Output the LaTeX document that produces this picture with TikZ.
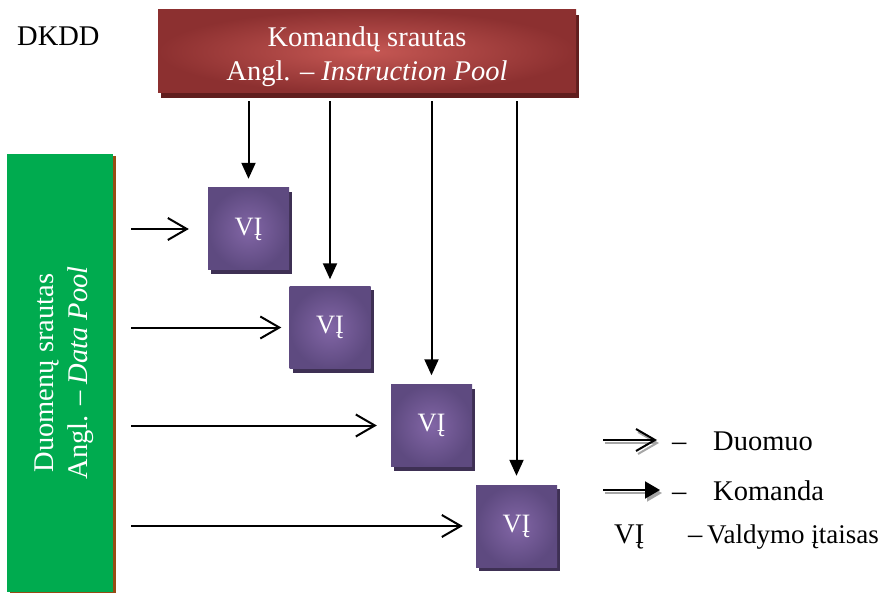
\documentclass[tikz,border=0pt]{standalone}
\usepackage{fontspec}
\setmainfont{Liberation Serif}
\usetikzlibrary{arrows.meta,shadows,positioning,calc}
\definecolor{poolred}{RGB}{140,48,48}
\definecolor{poolredlight}{RGB}{198,88,84}
\definecolor{poolredshadow}{RGB}{96,30,30}
\definecolor{poolgreen}{RGB}{0,171,79}
\definecolor{poolbrown}{RGB}{150,76,20}
\definecolor{vipurple}{RGB}{94,74,128}
\definecolor{vipurplelight}{RGB}{130,102,166}
\definecolor{vishadow}{RGB}{62,48,84}

\begin{document}
\begin{tikzpicture}[x=1pt, y=-1pt,
  bigtext/.style={font=\fontsize{28.5}{34}\selectfont},
  pooltext/.style={bigtext, text=white, align=center},
  legendtext/.style={bigtext, anchor=base west, inner sep=0pt},
  vibox/.style={shade, inner color=vipurplelight, outer color=vipurple, minimum width=81pt, minimum height=82pt, text=white, font=\fontsize{26.5}{30}\selectfont, drop shadow={shadow xshift=3pt, shadow yshift=-4pt, fill=vishadow, opacity=1}},
  cmdarrow/.style={-{Triangle[length=16pt,width=14pt]}, line width=2pt},
  dataarrow/.style={-{Straight Barb[length=19pt,width=22pt]}, line width=2pt}]
  \useasboundingbox (0,0) rectangle (888,593);

  % pools
  \node[legendtext] (dkdd) at (17,46) {DKDD};
  \node[shade, inner color=poolredlight, outer color=poolred, minimum width=418pt, minimum height=83pt, drop shadow={shadow xshift=3pt, shadow yshift=-5pt, fill=poolredshadow, opacity=1}] (cmd) at (367,51.5) {};
  \node[pooltext] (cmdtext) at ([yshift=-5pt]cmd.center) {Komandų srautas\\Angl. – \textit{Instruction Pool}};
  \node[fill=poolgreen, minimum width=106pt, minimum height=438pt, drop shadow={shadow xshift=3pt, shadow yshift=-2pt, fill=poolbrown, opacity=1}] (data) at (60,373) {};
  \node[pooltext, rotate=90] (datatext) at ([xshift=4pt]data.center) {Duomenų srautas\\Angl. – \textit{Data Pool}};

  % control units
  \node[vibox] (vi1) at (248.5,229) {VĮ};
  \node[vibox] (vi2) at (330,327.5) {VĮ};
  \node[vibox] (vi3) at (431.5,425.5) {VĮ};
  \node[vibox] (vi4) at (516.5,526) {VĮ};

  % commands
  \draw[cmdarrow, shorten <=8pt, shorten >=9pt] (cmd.south -| vi1.north) -- (vi1.north);
  \draw[cmdarrow, shorten <=8pt, shorten >=7pt] (cmd.south -| vi2.north) -- (vi2.north);
  \draw[cmdarrow, shorten <=8pt, shorten >=9pt] (cmd.south -| vi3.north) -- (vi3.north);
  \draw[cmdarrow, shorten <=8pt, shorten >=9pt] (cmd.south -| vi4.north) -- (vi4.north);

  % data
  \draw[dataarrow, shorten <=18pt, shorten >=19pt] (data.east |- vi1.west) -- (vi1.west);
  \draw[dataarrow, shorten <=18pt, shorten >=8pt] (data.east |- vi2.west) -- (vi2.west);
  \draw[dataarrow, shorten <=18pt, shorten >=14pt] (data.east |- vi3.west) -- (vi3.west);
  \draw[dataarrow, shorten <=18pt, shorten >=13pt] (data.east |- vi4.west) -- (vi4.west);

  % legend
  \coordinate (duoA) at (603,440);
  \coordinate (duoB) at (657,440);
  \coordinate (komA) at (603,490);
  \coordinate (komB) at (660,490);
  \draw[dataarrow, black!35] ([shift={(2,3)}]duoA) -- ([shift={(2,3)}]duoB);
  \draw[dataarrow] (duoA) -- (duoB);
  \draw[cmdarrow, -{Triangle[length=15pt,width=17pt]}, black!35] ([shift={(2,3)}]komA) -- ([shift={(2,3)}]komB);
  \draw[cmdarrow, -{Triangle[length=15pt,width=17pt]}] (komA) -- (komB);
  \node[legendtext] (duodash) at (672,450) {–};
  \node[legendtext] (duotext) at (713,450) {Duomuo};
  \node[legendtext] (komdash) at (672,500) {–};
  \node[legendtext] (komtext) at (713,500) {Komanda};
  \node[legendtext] (vilabel) at (614,543) {VĮ};
  \node[legendtext] (vidash) at (688,543) {–};
  \node[legendtext, font=\fontsize{27}{32}\selectfont] (vitext) at (707,543) {Valdymo įtaisas};
\end{tikzpicture}
\end{document}
